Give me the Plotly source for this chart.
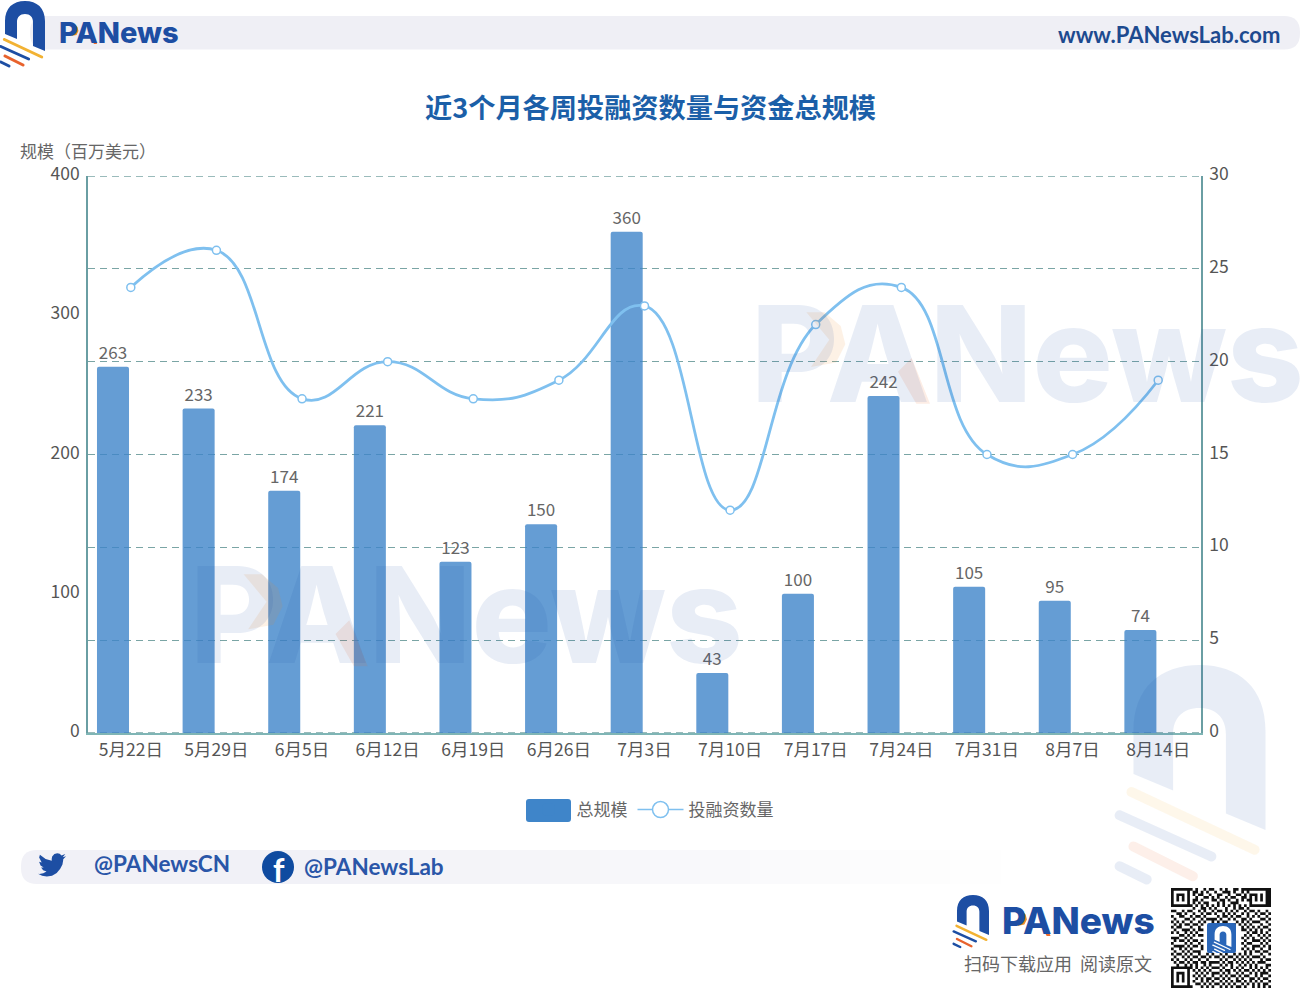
import plotly.graph_objects as go

# ---------- data ----------
categories = ["5月22日","5月29日","6月5日","6月12日","6月19日","6月26日","7月3日",
              "7月10日","7月17日","7月24日","7月31日","8月7日","8月14日"]
total_scale = [263,233,174,221,123,150,360,43,100,242,105,95,74]
deal_count = [24,26,18,20,18,19,23,12,22,24,15,15,19]
left_ticks = [0,100,200,300,400]
right_ticks = [0,5,10,15,20,25,30]

W, H = 1300, 1002
BLUE = "#1d4ea3"
CJK = "Noto Sans CJK SC"

def X(x): return x / W
def Y(y): return 1 - y / H
def P(x, y): return f"{X(x):.5f},{Y(y):.5f}"

def poly(pts):
    return "M" + " L".join(P(x, y) for x, y in pts) + " Z"

def rrect(x0, y0, x1, y1, r):
    return (f"M{P(x0+r,y0)} L{P(x1-r,y0)} Q{P(x1,y0)} {P(x1,y0+r)} L{P(x1,y1-r)} Q{P(x1,y1)} {P(x1-r,y1)} "
            f"L{P(x0+r,y1)} Q{P(x0,y1)} {P(x0,y1-r)} L{P(x0,y0+r)} Q{P(x0,y0)} {P(x0+r,y0)} Z")

shapes = []
def add(path, fill, opacity=1, layer="above"):
    shapes.append(dict(type="path", path=path, xref="paper", yref="paper", fillcolor=fill,
                       line=dict(width=0), opacity=opacity, layer=layer))

def stripe(x0, y0, x1, y1, color, w, opacity=1):
    L = ((x1-x0)**2 + (y1-y0)**2) ** 0.5
    dx, dy = (x1-x0)/L, (y1-y0)/L
    r = w / 2
    nx, ny = -dy*r, dx*r
    k = r * 4 / 3
    path = ("M" + P(x0+nx, y0+ny) + " L" + P(x1+nx, y1+ny)
            + " C" + P(x1+nx+dx*k, y1+ny+dy*k) + " " + P(x1-nx+dx*k, y1-ny+dy*k) + " " + P(x1-nx, y1-ny)
            + " L" + P(x0-nx, y0-ny)
            + " C" + P(x0-nx-dx*k, y0-ny-dy*k) + " " + P(x0+nx-dx*k, y0+ny-dy*k) + " " + P(x0+nx, y0+ny) + " Z")
    add(path, color, opacity)

def logo(ox, oy, s, opacity=1, mono=None):
    f = lambda x, y: (ox + x*s, oy + y*s)
    path = "M" + P(*f(5,33)) + " L" + P(*f(5,20)) + " C" + P(*f(5,7)) + " " + P(*f(13,0)) + " " + P(*f(25,0))
    path += " C" + P(*f(37,0)) + " " + P(*f(45,7)) + " " + P(*f(45,20)) + " L" + P(*f(45,50)) + " L" + P(*f(33,45))
    path += " L" + P(*f(33,21)) + " C" + P(*f(33,16)) + " " + P(*f(30,13)) + " " + P(*f(25,13))
    path += " C" + P(*f(20,13)) + " " + P(*f(17,16)) + " " + P(*f(17,21)) + " L" + P(*f(17,38)) + " Z"
    add(path, mono or BLUE, opacity)
    w = 3 * s
    stripe(*f(4.4,38.5), *f(41.7,56), mono or "#f2b233", w, opacity)
    stripe(*f(0.8,45.5), *f(28.6,58), mono or BLUE, w, opacity)
    stripe(*f(5,55), *f(23,64), mono or "#e8622c", w, opacity)
    stripe(*f(0.8,61), *f(9,65), mono or BLUE, w, opacity)

def wordmark_marks(x0, y0, width, opacity=1, gap=None):
    s = width / 119
    f = lambda x, y: (x0 + x*s, y0 + y*s)
    if gap:
        add(poly([f(5.2,-1), f(7,-1), f(7,22), f(5.2,22)]), gap)
    add(poly([f(11,2), f(15,2), f(18.5,5), f(19.5,9), f(17.5,13), f(12,14), f(16,8)]), "#f08a2a", opacity)
    add(poly([f(31,15), f(35,22), f(38,22), f(34,12)]), "#ee6a2a", opacity)

# --- header band ---
add(rrect(30, 16, 1300, 49.5, 16), "#efeff5", layer="below")
logo(0, 1, 1)
wordmark_marks(59, 22, 119, 1, "#efeff5")

# --- footer band (fading to white) ---
add(rrect(21, 850, 320, 884, 16), "#f1f1f7", layer="below")
steps = 14
for i in range(steps):
    t = i / steps
    c = int(0xf1 + (0xff - 0xf1) * t)
    c2 = int(0xf7 + (0xff - 0xf7) * t)
    xa = 300 + i * 50
    add(poly([(xa,850),(xa+51,850),(xa+51,884),(xa,884)]), f"rgb({c},{c},{c2})", layer="below")

# --- big corner watermark ---
logo(1117, 665, 3.3, 0.1)

# --- footer logo ---
logo(953, 895, 0.8)
wordmark_marks(1002, 908, 152, 1, "#ffffff")

# --- twitter bird ---
bird = [(23.95,4.57),(21.13,5.35),(23.29,2.62),(20.16,3.81),(18.5,2.4),(16.5,1.9),(14,2.6),(12.1,4.6),(11.7,6.9),
        (11.78,8.29),(6.5,6.9),(1.64,3.16),(0.975,5.64),(3.16,9.73),(0.94,9.12),(0.94,9.18),(2.2,12.3),(4.88,14),(2.67,14.09),
        (4.4,16.4),(7.28,17.5),(4.5,19.1),(1.17,19.6),(0,19.54),(3.5,21.2),(7.56,21.75),(12,21.1),(16,18.7),(19,15.2),(20.9,11.6),
        (21.55,7.77),(21.54,7.14),(24,4.59)]
add(poly([(38 + x*1.17, 851 + y*1.17) for x, y in bird]), "#1d4ea3")

# --- facebook disc ---
shapes.append(dict(type="circle", xref="paper", yref="paper", x0=X(262), x1=X(294), y0=Y(851), y1=Y(883),
                   fillcolor="#0f4ba0", line=dict(width=0), layer="above"))

# --- QR code ---
qr_rows = [
"0000000010110100110101100100000000000",
"0111110100101011011000101101011111100",
"0100010101001101100110110010100010100",
"0101010110110010101101001100101010100",
"0101010100101110010010110101001010100",
"0111110101010011101011000111101111100",
"0000000010101010101010101010100000000",
"1111111101100101011101101001011111111",
"0011010011010110100101010110100101101",
"1100101101101001011010101101011010010",
"0110011010010111101001010011010101101",
"1011100101101000010110101100101110010",
"0101011011010110101001110101010001101",
"1010100100101101011110001010101110110",
"0100111011011111111111111101010101001",
"1011000101001111111111111100101010110",
"0101101010111111111111111111010010101",
"1110010101001111111111111110101101010",
"0001101011111111111111111101010110101",
"1010010100101111111111111110110001010",
"0111101011011111111111111101001110101",
"1000010100101111111111111110110001010",
"0110101011101111111111111101010110110",
"1011010100011111111111111110101001001",
"0100101011011010110101101010101110110",
"1011010100100101001010010101010001011",
"0101101011011011110101101010101110100",
"1010010100100100001010010101010100011",
"1101101010110101110101011010101011100",
"0000000010101010001011010101101010101",
"0111110101010101110100101010010101010",
"0100010110101010001010110101101010001",
"0101010101010110110101001010011010110",
"0101010110101001001010110101100101001",
"0101010101101010110101010010101010110",
"0111110110010101001010101101010101001",
"0000000011101010110101010010110101010",
]
qx, qy, qm = 1171, 888, 100 / 37
qr_path = ""
for r, row in enumerate(qr_rows):
    c = 0
    while c < len(row):
        if row[c] == "0":
            e = c
            while e + 1 < len(row) and row[e + 1] == "0":
                e += 1
            x0, x1 = qx + c*qm, qx + (e+1)*qm
            y0, y1 = qy + r*qm, qy + (r+1)*qm
            qr_path += poly([(x0,y0),(x1,y0),(x1,y1),(x0,y1)]) + " "
            c = e + 1
        else:
            c += 1
add(qr_path, "#111111")
add(rrect(1207, 923, 1236, 953, 2), "#2a66b8")
logo(1212.5, 926, 0.42, mono="#ffffff")

# --- legend swatch backing ---
add(rrect(526, 799, 571, 822, 3), "#3f85c9", layer="below")

# --- watermark accents ---
wordmark_marks(756, 303, 545, 0.12)
wordmark_marks(193, 565, 547, 0.12)

# --- grid lines that the axis itself leaves out at its two ends ---
GRID = dict(color="#7aa5a5", width=1.4, dash="7px,5px")
for v in (right_ticks[0], right_ticks[-1]):
    shapes.append(dict(type="line", xref="x domain", yref="y2", x0=0, x1=1, y0=v, y1=v, line=GRID, layer="below"))

def note(text, x, y, size, color, family=CJK, weight=400, xanchor="left"):
    return dict(text=text, x=X(x), y=Y(y), xref="paper", yref="paper", showarrow=False, xanchor=xanchor,
                yanchor="middle", font=dict(size=size, color=color, family=family, weight=weight))

wm = "rgba(25,80,170,0.10)"
annotations = [
    note("PANews", 1027, 353, 134, wm, "Inter", 800, "center"),
    note("PANews", 466, 614, 134, wm, "Inter", 800, "center"),
    note("PANews", 57, 33, 29, BLUE, "Inter", 800),
    note("www.PANewsLab.com", 1282, 34, 22, "#1d4a8f", "Lato", 700, "right"),
    note("近3个月各周投融资数量与资金总规模", 650, 106, 27.2, "#1b5fa8", CJK, 700, "center"),
    note("规模（百万美元）", 17.5, 151, 17, "#666666"),
    note("@PANewsCN", 92, 863, 22.5, "#2a56a8", "Lato", 700),
    note("f", 279, 869, 32, "#ffffff", "Lato", 700, "center"),
    note("@PANewsLab", 302, 866, 22.5, "#2a56a8", "Lato", 700),
    note("PANews", 1000, 920, 37, BLUE, "Inter", 800),
    note("扫码下载应用  阅读原文", 961.5, 963, 18, "#666666", xanchor="left"),
]

fig = go.Figure()
fig.add_bar(x=categories, y=total_scale, name="总规模", width=0.374, offset=-0.395,
            marker=dict(color="#3f85c9", opacity=0.8, cornerradius=2, line=dict(width=0)),
            text=total_scale, textposition="outside", cliponaxis=False,
            textfont=dict(size=17, color="#666666", family=CJK), yaxis="y")
fig.add_scatter(x=categories, y=deal_count, name="投融资数量", yaxis="y2", mode="lines+markers", showlegend=False,
                line=dict(color="#7fc0ef", width=2.8, shape="spline", smoothing=1.3),
                marker=dict(size=8, color="#ffffff", line=dict(color="#7fc0ef", width=1.5)),
                cliponaxis=False)
# legend-only twin: thin line with the reference's large hollow marker
fig.add_scatter(x=categories, y=[None]*len(categories), name="投融资数量", yaxis="y2", mode="lines+markers",
                line=dict(color="#7fc0ef", width=1.5),
                marker=dict(size=16, color="#ffffff", line=dict(color="#7fc0ef", width=1.5)))

axis_c = "#6a9ea3"
tickfont = dict(size=17.5, color="#555555", family=CJK)
fig.update_layout(
    width=W, height=H, margin=dict(l=0, r=0, t=0, b=0, autoexpand=False), autosize=False,
    paper_bgcolor="#ffffff", plot_bgcolor="rgba(0,0,0,0)", font=dict(family=CJK),
    bargap=0.6, hovermode=False,
    xaxis=dict(domain=[X(88), X(1201)], type="category", range=[-0.5, 12.5], tickfont=tickfont, showgrid=False,
               showline=True, linecolor="#7fb5b5", linewidth=1.5, ticks="", zeroline=False, anchor="y"),
    yaxis=dict(domain=[Y(733), Y(176)], range=[0, 400], tickvals=left_ticks, tickfont=tickfont, showgrid=False,
               showline=True, linecolor=axis_c, linewidth=1.5, ticks="outside", ticklen=3, tickcolor="#ffffff",
               zeroline=False, ticklabelshift=-2),
    yaxis2=dict(domain=[Y(733), Y(176)], range=[0, 30], tickvals=right_ticks, tickfont=tickfont, overlaying="y",
                side="right", anchor="x", showgrid=True, gridcolor=GRID["color"], gridwidth=GRID["width"],
                griddash=GRID["dash"], showline=True, linecolor=axis_c, linewidth=1.5, ticks="outside", ticklen=3,
                tickcolor="#ffffff", zeroline=False, ticklabelshift=-2),
    legend=dict(orientation="h", x=X(520.5), y=Y(810), xanchor="left", yanchor="middle", itemwidth=46,
                font=dict(size=17, color="#666666", family=CJK),
                bgcolor="rgba(0,0,0,0)", itemclick=False, itemdoubleclick=False),
    shapes=shapes, annotations=annotations,
)

fig.write_html("out.html", config=dict(displayModeBar=False, responsive=False),
               post_script="document.body.style.margin='0';document.body.style.overflow='hidden';")
